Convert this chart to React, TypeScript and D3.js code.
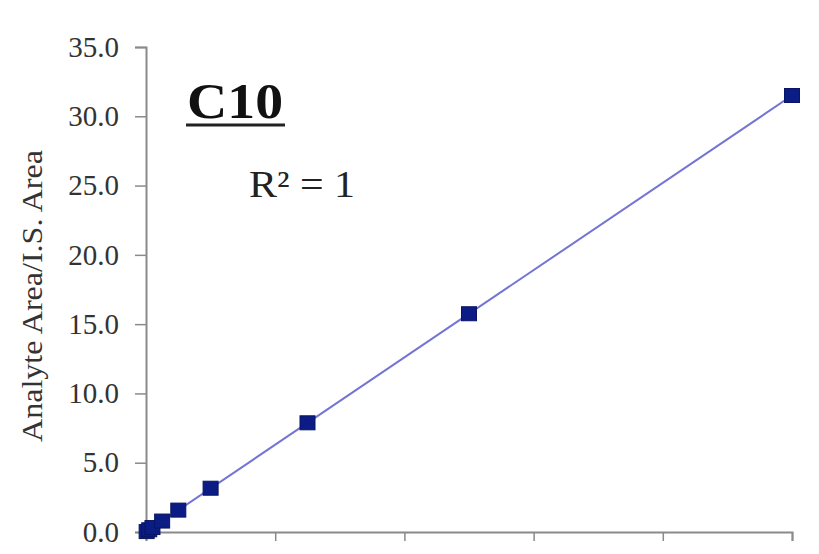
import React, { useEffect, useRef } from "react";
import * as d3 from "d3";

const concentrations = [0.1, 0.5, 1, 2.5, 5, 10, 25, 50, 100];
const ratios = [0.03, 0.16, 0.32, 0.79, 1.58, 3.16, 7.88, 15.75, 31.5];
const yTicks = [0, 5, 10, 15, 20, 25, 30, 35];
const xTicks = [0, 20, 40, 60, 80, 100];
const title = "C10";
const rSquared = "R² = 1";
const yLabel = "Analyte Area/I.S. Area";

const W = 819;
const H = 554;

export default function App() {
  const ref = useRef<SVGSVGElement | null>(null);

  useEffect(() => {
    document.body.style.margin = "0";
    const svg = d3.select(ref.current);
    svg.selectAll("*").remove();

    const x = d3.scaleLinear().domain([0, 100]).range([146, 792]);
    const y = d3.scaleLinear().domain([0, 35]).range([532, 47]);
    const axisColor = "#8a8a8a";
    const font = "'Liberation Serif', 'Times New Roman', serif";

    svg.append("rect").attr("width", W).attr("height", H).attr("fill", "#fff");

    // y axis
    const yAxis = svg.append("g").attr("transform", `translate(${x(0)},0)`)
      .call(d3.axisLeft(y).tickValues(yTicks).tickSize(11).tickPadding(16).tickFormat(d3.format(".1f")));
    yAxis.select(".domain").attr("stroke", axisColor).attr("stroke-width", 2);
    yAxis.selectAll(".tick line").attr("stroke", axisColor).attr("stroke-width", 1.5);
    yAxis.selectAll(".tick text").attr("fill", "#333").attr("font-family", font).attr("font-size", 29);

    // x axis
    const xAxis = svg.append("g").attr("transform", `translate(0,${y(0)})`)
      .call(d3.axisBottom(x).tickValues(xTicks).tickSize(9).tickFormat(() => ""));
    xAxis.select(".domain").attr("stroke", axisColor).attr("stroke-width", 2);
    xAxis.selectAll(".tick line").attr("stroke", axisColor).attr("stroke-width", 1.5);

    // trendline
    const pts = concentrations.map((c, i) => [c, ratios[i]] as [number, number]);
    const line = d3.line<[number, number]>().x(d => x(d[0])).y(d => y(d[1]));
    svg.append("path")
      .attr("d", line([pts[0], pts[pts.length - 1]]))
      .attr("stroke", "#7474d4").attr("stroke-width", 2).attr("fill", "none");

    // markers
    const mw = 15, mh = 14;
    svg.append("g").selectAll("rect").data(pts).join("rect")
      .attr("x", d => x(d[0]) - mw / 2)
      .attr("y", d => y(d[1]) - mh / 2)
      .attr("width", mw).attr("height", mh)
      .attr("fill", "#0b1c84").attr("stroke", "#081560").attr("stroke-width", 1);

    // y label
    svg.append("text")
      .attr("transform", `translate(42,296) rotate(-90)`)
      .attr("text-anchor", "middle")
      .attr("font-family", font).attr("font-size", 30).attr("fill", "#333")
      .attr("textLength", 292).attr("lengthAdjust", "spacingAndGlyphs")
      .text(yLabel);

    // title
    svg.append("text").attr("x", 187).attr("y", 118)
      .attr("font-family", font).attr("font-size", 50).attr("font-weight", "bold").attr("fill", "#111")
      .attr("textLength", 96).attr("lengthAdjust", "spacingAndGlyphs")
      .text(title);
    svg.append("line").attr("x1", 186).attr("x2", 285).attr("y1", 125).attr("y2", 125)
      .attr("stroke", "#222").attr("stroke-width", 3);

    svg.append("text").attr("x", 249).attr("y", 197)
      .attr("font-family", font).attr("font-size", 37).attr("fill", "#222")
      .attr("textLength", 106).attr("lengthAdjust", "spacingAndGlyphs")
      .text(rSquared);
  }, []);

  return (
    <div style={{ position: "fixed", left: 0, top: 0 }}>
      <svg ref={ref} width={W} height={H} />
    </div>
  );
}
